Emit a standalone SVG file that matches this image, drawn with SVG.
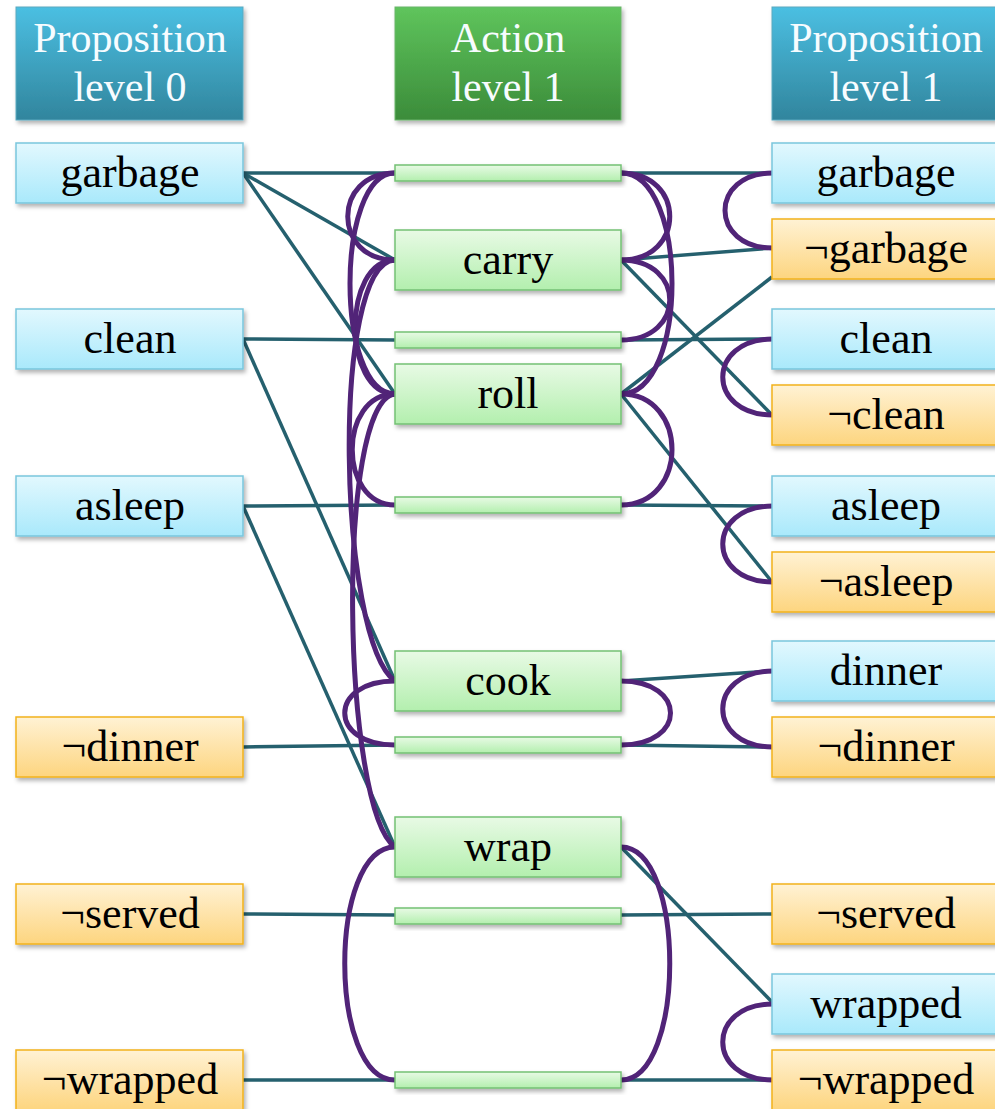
<svg xmlns="http://www.w3.org/2000/svg" width="995" height="1109" viewBox="0 0 995 1109">
  <defs>
    <linearGradient id="gHead" x1="0" y1="0" x2="0" y2="1">
      <stop offset="0" stop-color="#4bbfe2"/>
      <stop offset="1" stop-color="#31859d"/>
    </linearGradient>
    <linearGradient id="gHeadAct" x1="0" y1="0" x2="0" y2="1">
      <stop offset="0" stop-color="#5fc45c"/>
      <stop offset="1" stop-color="#3b8c3a"/>
    </linearGradient>
    <linearGradient id="gPos" x1="0" y1="0" x2="0" y2="1">
      <stop offset="0" stop-color="#e2f8fe"/>
      <stop offset="1" stop-color="#a9e9fb"/>
    </linearGradient>
    <linearGradient id="gNeg" x1="0" y1="0" x2="0" y2="1">
      <stop offset="0" stop-color="#fff2d4"/>
      <stop offset="1" stop-color="#fdd57f"/>
    </linearGradient>
    <linearGradient id="gAct" x1="0" y1="0" x2="0" y2="1">
      <stop offset="0" stop-color="#e8fae5"/>
      <stop offset="1" stop-color="#b3efae"/>
    </linearGradient>
    <filter id="shadow" x="-10%" y="-20%" width="120%" height="160%">
      <feDropShadow dx="2" dy="3" stdDeviation="2" flood-color="#000" flood-opacity="0.3"/>
    </filter>
  </defs>
  <style>
    .head { stroke: #5aa9c0; stroke-width: 1; filter: url(#shadow); }
    .headAct { stroke: #6ab56a; stroke-width: 1; filter: url(#shadow); }
    .pos { fill: url(#gPos); stroke: #79c6dd; stroke-width: 1.5; filter: url(#shadow); }
    .neg { fill: url(#gNeg); stroke: #f2b21b; stroke-width: 1.5; filter: url(#shadow); }
    .act { fill: url(#gAct); stroke: #74c174; stroke-width: 1.5; filter: url(#shadow); }
    .htxt { font-family: "Liberation Serif", serif; font-size: 42px; fill: #f7fcff; text-anchor: middle; }
    .txt { font-family: "Liberation Serif", serif; font-size: 44px; fill: #000; text-anchor: middle; }
    .link { stroke: #25606e; stroke-width: 3.5; fill: none; }
    .mutex { stroke: #512478; stroke-width: 5; fill: none; }
  </style>

  <!-- precondition / effect edges and mutex arcs -->
  <g id="connectors">
    <!-- level 0 propositions to actions -->
    <path class="link" d="M243,173 L395,173"/>
    <path class="link" d="M243,173 L395,260"/>
    <path class="link" d="M243,173 L395,394"/>
    <path class="link" d="M243,339 L395,340"/>
    <path class="link" d="M243,339 L395,681"/>
    <path class="link" d="M243,506 L395,505"/>
    <path class="link" d="M243,506 L395,847"/>
    <path class="link" d="M243,747 L395,745"/>
    <path class="link" d="M243,914 L395,915"/>
    <path class="link" d="M243,1080 L395,1080"/>
    <!-- actions to level 1 propositions -->
    <path class="link" d="M621,173 L772,173"/>
    <path class="link" d="M621,260 L772,248"/>
    <path class="link" d="M621,260 L772,415"/>
    <path class="link" d="M621,340 L772,339"/>
    <path class="link" d="M621,394 L772,277"/>
    <path class="link" d="M621,394 L772,582"/>
    <path class="link" d="M621,505 L772,506"/>
    <path class="link" d="M621,681 L772,671"/>
    <path class="link" d="M621,745 L772,747"/>
    <path class="link" d="M621,847 L772,1002"/>
    <path class="link" d="M621,915 L772,914"/>
    <path class="link" d="M621,1080 L772,1080"/>

    <!-- action mutexes, left side -->
    <path class="mutex" d="M395,173 C332,173 332,260 395,260"/>
    <path class="mutex" d="M395,173 C335,173 335,394 395,394"/>
    <path class="mutex" d="M395,260 C342,260 342,394 395,394"/>
    <path class="mutex" d="M395,260 C330,262 338,640 395,681"/>
    <path class="mutex" d="M395,394 C338,394 338,505 395,505"/>
    <path class="mutex" d="M395,394 C335,400 342,810 395,847"/>
    <path class="mutex" d="M395,681 C328,681 328,745 395,745"/>
    <path class="mutex" d="M395,847 C328,847 328,1080 395,1080"/>
    <!-- action mutexes, right side -->
    <path class="mutex" d="M621,173 C686,173 686,260 621,260"/>
    <path class="mutex" d="M621,173 C689,173 689,394 621,394"/>
    <path class="mutex" d="M621,260 C686,260 686,340 621,340"/>
    <path class="mutex" d="M621,394 C689,394 689,505 621,505"/>
    <path class="mutex" d="M621,681 C687,681 687,745 621,745"/>
    <path class="mutex" d="M621,847 C686,847 686,1080 621,1080"/>

    <!-- level 1 proposition mutexes -->
    <path class="mutex" d="M773,173 C709,173 709,248 773,248"/>
    <path class="mutex" d="M773,339 C706,339 706,415 773,415"/>
    <path class="mutex" d="M773,506 C706,506 706,582 773,582"/>
    <path class="mutex" d="M773,671 C706,671 706,747 773,747"/>
    <path class="mutex" d="M773,1004 C706,1004 706,1080 773,1080"/>
  </g>

  <!-- column headers -->
  <g id="head-prop0">
    <rect class="head" x="16" y="7" width="227" height="113" fill="url(#gHead)"/>
    <text class="htxt" x="130" y="52">Proposition</text>
    <text class="htxt" x="130" y="101">level 0</text>
  </g>
  <g id="head-act1">
    <rect class="headAct" x="395" y="7" width="226" height="113" fill="url(#gHeadAct)"/>
    <text class="htxt" x="508" y="52">Action</text>
    <text class="htxt" x="508" y="101">level 1</text>
  </g>
  <g id="head-prop1">
    <rect class="head" x="772" y="7" width="227" height="113" fill="url(#gHead)"/>
    <text class="htxt" x="886" y="52">Proposition</text>
    <text class="htxt" x="886" y="101">level 1</text>
  </g>

  <!-- proposition level 0 -->
  <g id="p0-garbage"><rect class="pos" x="16" y="143" width="227" height="60"/><text class="txt" x="130" y="187">garbage</text></g>
  <g id="p0-clean"><rect class="pos" x="16" y="309" width="227" height="60"/><text class="txt" x="130" y="353">clean</text></g>
  <g id="p0-asleep"><rect class="pos" x="16" y="476" width="227" height="60"/><text class="txt" x="130" y="520">asleep</text></g>
  <g id="p0-not-dinner"><rect class="neg" x="16" y="717" width="227" height="60"/><text class="txt" x="130" y="761">¬dinner</text></g>
  <g id="p0-not-served"><rect class="neg" x="16" y="884" width="227" height="60"/><text class="txt" x="130" y="928">¬served</text></g>
  <g id="p0-not-wrapped"><rect class="neg" x="16" y="1050" width="227" height="60"/><text class="txt" x="130" y="1094">¬wrapped</text></g>

  <!-- action level 1: persistence bars and actions -->
  <g id="noop-garbage"><rect class="act" x="395" y="165" width="226" height="16"/></g>
  <g id="a-carry"><rect class="act" x="395" y="230" width="226" height="60"/><text class="txt" x="508" y="274">carry</text></g>
  <g id="noop-clean"><rect class="act" x="395" y="332" width="226" height="16"/></g>
  <g id="a-roll"><rect class="act" x="395" y="364" width="226" height="60"/><text class="txt" x="508" y="408">roll</text></g>
  <g id="noop-asleep"><rect class="act" x="395" y="497" width="226" height="16"/></g>
  <g id="a-cook"><rect class="act" x="395" y="651" width="226" height="60"/><text class="txt" x="508" y="695">cook</text></g>
  <g id="noop-not-dinner"><rect class="act" x="395" y="737" width="226" height="16"/></g>
  <g id="a-wrap"><rect class="act" x="395" y="817" width="226" height="60"/><text class="txt" x="508" y="861">wrap</text></g>
  <g id="noop-not-served"><rect class="act" x="395" y="908" width="226" height="16"/></g>
  <g id="noop-not-wrapped"><rect class="act" x="395" y="1072" width="226" height="16"/></g>

  <!-- proposition level 1 -->
  <g id="p1-garbage"><rect class="pos" x="772" y="143" width="227" height="60"/><text class="txt" x="886" y="187">garbage</text></g>
  <g id="p1-not-garbage"><rect class="neg" x="772" y="219" width="227" height="60"/><text class="txt" x="886" y="263">¬garbage</text></g>
  <g id="p1-clean"><rect class="pos" x="772" y="309" width="227" height="60"/><text class="txt" x="886" y="353">clean</text></g>
  <g id="p1-not-clean"><rect class="neg" x="772" y="385" width="227" height="60"/><text class="txt" x="886" y="429">¬clean</text></g>
  <g id="p1-asleep"><rect class="pos" x="772" y="476" width="227" height="60"/><text class="txt" x="886" y="520">asleep</text></g>
  <g id="p1-not-asleep"><rect class="neg" x="772" y="552" width="227" height="60"/><text class="txt" x="886" y="596">¬asleep</text></g>
  <g id="p1-dinner"><rect class="pos" x="772" y="641" width="227" height="60"/><text class="txt" x="886" y="685">dinner</text></g>
  <g id="p1-not-dinner"><rect class="neg" x="772" y="717" width="227" height="60"/><text class="txt" x="886" y="761">¬dinner</text></g>
  <g id="p1-not-served"><rect class="neg" x="772" y="884" width="227" height="60"/><text class="txt" x="886" y="928">¬served</text></g>
  <g id="p1-wrapped"><rect class="pos" x="772" y="974" width="227" height="60"/><text class="txt" x="886" y="1018">wrapped</text></g>
  <g id="p1-not-wrapped"><rect class="neg" x="772" y="1050" width="227" height="60"/><text class="txt" x="886" y="1094">¬wrapped</text></g>
</svg>
